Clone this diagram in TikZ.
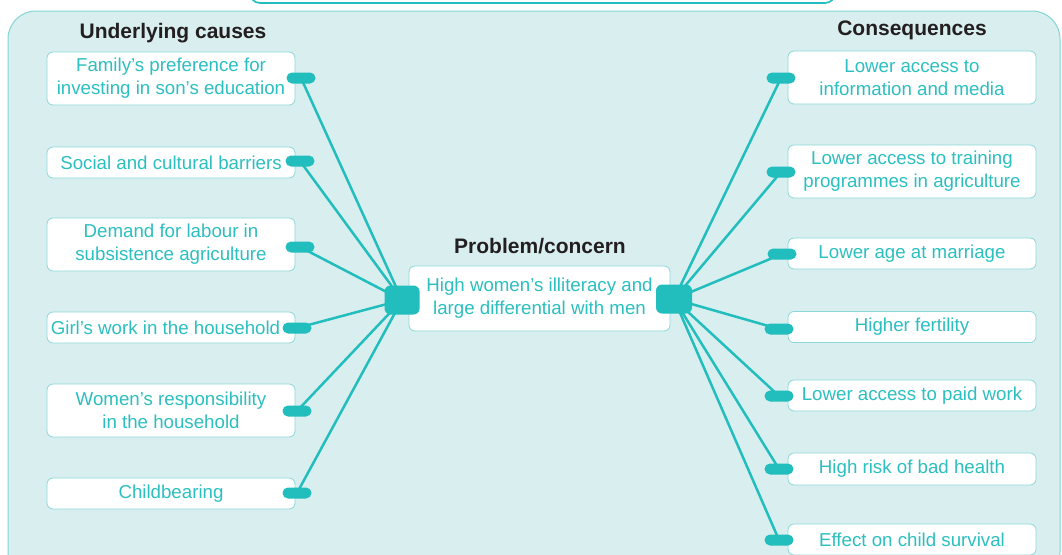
\documentclass[tikz,border=0pt]{standalone}
\usepackage{fontspec}
\setmainfont{Liberation Sans}
\definecolor{panelfill}{HTML}{D9EEEF}
\definecolor{panelline}{HTML}{82D5D5}
\definecolor{boxline}{HTML}{8AD8D8}
\definecolor{tealc}{HTML}{22BDBD}
\definecolor{tealtext}{HTML}{2CBFC0}
\definecolor{hdrcol}{HTML}{231F20}
\tikzset{
  cbox/.style={draw=boxline, fill=white, rounded corners=6pt, line width=0.8pt,
    minimum width=248pt, align=center, text=tealtext,
    font=\fontsize{18.7}{23}\selectfont, inner sep=0pt},
  pill/.style={fill=tealc, rounded corners=5.5pt, minimum width=29pt,
    minimum height=11pt, inner sep=0pt},
  hub/.style={fill=tealc, rounded corners=6pt, minimum width=35pt,
    minimum height=29pt, inner sep=0pt},
  hdr/.style={text=hdrcol, font=\fontsize{21}{25}\selectfont\bfseries, inner sep=0pt},
  link/.style={draw=tealc, line width=2.5pt},
}
\begin{document}
\begin{tikzpicture}[x=1pt,y=-1pt]
\useasboundingbox (0,0) rectangle (1062,554);
\clip (0,0) rectangle (1062,554);
\fill[white] (0,0) rectangle (1062,554);
% top title box (cut off)
\draw[tealc, fill=white, line width=1.6pt, rounded corners=10pt] (250,-40) rectangle (835,3);
% panel
\draw[panelline, fill=panelfill, line width=1pt, rounded corners=28pt] (8,11) rectangle (1060,580);

% headers
\node[hdr] (hcause) at (173,33) {Underlying causes};
\node[hdr] (hcons) at (912,30) {Consequences};
\node[hdr] (hprob) at (540,246) {Problem/concern};

% hubs and pills (positions)
\coordinate (hl) at (402,300);
\coordinate (hr) at (674,299);

\coordinate (pl1) at (301,78);
\coordinate (pl2) at (300,161);
\coordinate (pl3) at (300,247);
\coordinate (pl4) at (297,328);
\coordinate (pl5) at (297,411);
\coordinate (pl6) at (297,493);

\coordinate (pr1) at (781,78);
\coordinate (pr2) at (781,172);
\coordinate (pr3) at (782,254);
\coordinate (pr4) at (779,329);
\coordinate (pr5) at (779,396);
\coordinate (pr6) at (779,469);
\coordinate (pr7) at (779,540);

% links
\foreach \p in {pl1,pl2,pl3,pl4,pl5,pl6} \draw[link] (\p) -- (hl);
\foreach \p in {pr1,pr2,pr3,pr4,pr5,pr6,pr7} \draw[link] (\p) -- (hr);

% left boxes
\node[cbox, minimum height=53pt] (l1) at (171,78.5) {Family’s preference for\\investing in son’s education};
\node[cbox, minimum height=31pt] (l2) at (171,162.5) {Social and cultural barriers};
\node[cbox, minimum height=53pt] (l3) at (171,244.5) {Demand for labour in\\subsistence agriculture};
\node[cbox, minimum height=31pt] (l4) at (171,327.5) {Girl’s work in the household\hspace*{11pt}};
\node[cbox, minimum height=53pt] (l5) at (171,410.5) {Women’s responsibility\\in the household};
\node[cbox, minimum height=31pt] (l6) at (171,493.5) {Childbearing};

% right boxes
\node[cbox, minimum height=53pt] (r1) at (912,77.5) {Lower access to\\information and media};
\node[cbox, minimum height=53pt] (r2) at (912,171.5) {Lower access to training\\programmes in agriculture};
\node[cbox, minimum height=31pt] (r3) at (912,253.5) {Lower age at marriage};
\node[cbox, minimum height=31pt] (r4) at (912,327) {Higher fertility};
\node[cbox, minimum height=31pt] (r5) at (912,395.5) {Lower access to paid work};
\node[cbox, minimum height=32pt] (r6) at (912,469) {High risk of bad health};
\node[cbox, minimum height=31pt] (r7) at (912,539.5) {Effect on child survival};

% center box
\node[cbox, minimum width=261pt, minimum height=65pt] (c) at (539.5,298.5) {High women’s illiteracy and\\large differential with men};

% pills
\foreach \p in {pl1,pl2,pl3,pl4,pl5,pl6,pr1,pr2,pr3,pr4,pr5,pr6,pr7}
  \node[pill] at (\p) {};
% hubs
\node[hub] (hubl) at (hl) {};
\node[hub, minimum width=36pt] (hubr) at (hr) {};
\end{tikzpicture}
\end{document}
